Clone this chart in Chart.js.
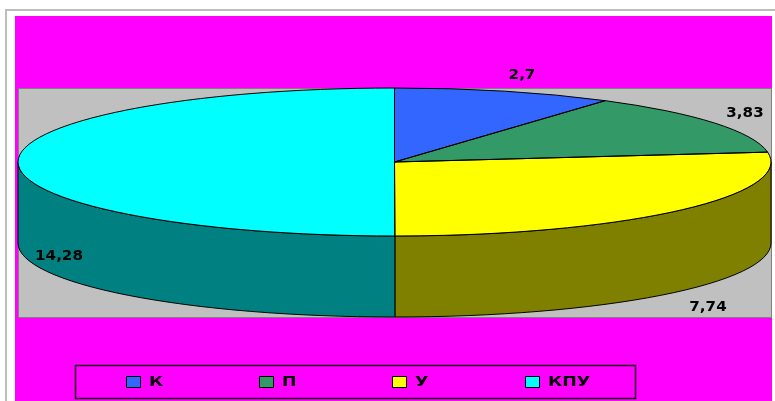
<!DOCTYPE html>
<html>
<head>
<meta charset="utf-8">
<style>
  html, body { margin: 0; background: #fff; }
  canvas { display: block; }
</style>
<script src="https://cdn.jsdelivr.net/npm/chart.js@4"></script>
</head>
<body>
<canvas id="pie" width="775" height="401"></canvas>
<script>
const categories = ["К", "П", "У", "КПУ"];
const seriesValues = [2.7, 3.83, 7.74, 14.28];
const topColors = ["#3366ff", "#339966", "#ffff00", "#00ffff"];
const wallColors = ["#193380", "#1a4d33", "#808000", "#008080"];

// label centres, same order as the categories
const labelSpots = [[522, 75], [745, 113], [708, 307], [59, 256]];
const depth = 81;

function stretchedText(ctx, text, x, y, size, stretch) {
  ctx.save();
  ctx.translate(x, y);
  ctx.scale(stretch, 1);
  ctx.filter = "blur(0.35px)";
  ctx.font = "bold " + size + "px 'DejaVu Sans'";
  ctx.fillStyle = "#000";
  ctx.textBaseline = "middle";
  ctx.fillText(text, 0, 0);
  ctx.restore();
}

// flattens the pie into a disc and adds the wall, frame, labels and legend
const disc3d = {
  id: "disc3d",
  beforeDraw(chart) {
    const ctx = chart.ctx;
    const a = chart.chartArea;
    ctx.save();
    ctx.fillStyle = "#fff";
    ctx.fillRect(0, 0, chart.width, chart.height);
    ctx.strokeStyle = "#bdbdbd";
    ctx.lineWidth = 2;
    ctx.beginPath();
    ctx.moveTo(6, chart.height);
    ctx.lineTo(6, 10);
    ctx.lineTo(chart.width, 10);
    ctx.stroke();
    ctx.fillStyle = "#ff00ff";
    ctx.fillRect(15, 16, 757, chart.height - 16);
    ctx.fillStyle = "#c0c0c0";
    ctx.fillRect(a.left, a.top, a.right - a.left, a.bottom - a.top + depth);
    ctx.strokeStyle = "#808080";
    ctx.lineWidth = 1;
    ctx.strokeRect(a.left + 0.5, a.top + 0.5, a.right - a.left, a.bottom - a.top + depth);
    ctx.restore();
  },
  beforeDatasetsDraw(chart) {
    const ctx = chart.ctx;
    const a = chart.chartArea;
    const arcs = chart.getDatasetMeta(0).data;
    const rx = (a.right - a.left) / 2;
    const ry = (a.bottom - a.top) / 2;
    ctx.save();
    arcs.forEach((arc, i) => {
      const from = Math.max(arc.startAngle, 0);
      const to = Math.min(arc.endAngle, Math.PI);
      if (from >= to) return;
      ctx.beginPath();
      ctx.ellipse(arc.x, arc.y, rx, ry, 0, from, to);
      ctx.ellipse(arc.x, arc.y + depth, rx, ry, 0, to, from, true);
      ctx.closePath();
      ctx.fillStyle = wallColors[i];
      ctx.fill();
      ctx.strokeStyle = "#000";
      ctx.lineWidth = 1;
      ctx.stroke();
    });
    ctx.restore();
    ctx.save();
    ctx.translate(arcs[0].x, arcs[0].y);
    ctx.scale(rx / ry, 1);
    ctx.translate(-arcs[0].x, -arcs[0].y);
  },
  afterDatasetsDraw(chart) {
    const ctx = chart.ctx;
    const a = chart.chartArea;
    const arcs = chart.getDatasetMeta(0).data;
    ctx.restore();
    ctx.save();
    const rx = (a.right - a.left) / 2;
    const ry = (a.bottom - a.top) / 2;
    ctx.strokeStyle = "#000";
    ctx.lineWidth = 1;
    arcs.forEach((arc) => {
      ctx.beginPath();
      ctx.moveTo(arc.x, arc.y);
      ctx.ellipse(arc.x, arc.y, rx, ry, 0, arc.startAngle, arc.endAngle);
      ctx.closePath();
      ctx.stroke();
    });
    ctx.restore();

    seriesValues.forEach((v, i) => {
      const text = String(v).replace(".", ",");
      ctx.save();
      ctx.font = "bold 13.5px 'DejaVu Sans'";
      const w = ctx.measureText(text).width * 1.12;
      ctx.restore();
      stretchedText(ctx, text, labelSpots[i][0] - w / 2, labelSpots[i][1], 13.5, 1.12);
    });

    // legend row
    ctx.save();
    ctx.strokeStyle = "#1a001a";
    ctx.lineWidth = 1.5;
    ctx.strokeRect(75.5, 365.5, 560, 33);
    categories.forEach((name, i) => {
      const x = 126 + i * 133;
      ctx.fillStyle = topColors[i];
      ctx.fillRect(x, 376, 15, 11);
      ctx.strokeStyle = "#000";
      ctx.lineWidth = 1;
      ctx.strokeRect(x + 0.5, 376.5, 14, 11);
      stretchedText(ctx, name, x + 23, 382, 14.5, 1.2);
    });
    ctx.restore();
  }
};

new Chart(document.getElementById("pie"), {
  type: "pie",
  data: {
    labels: categories,
    datasets: [{
      data: seriesValues,
      backgroundColor: topColors,
      borderWidth: 0
    }]
  },
  options: {
    responsive: false,
    animation: false,
    layout: { padding: { left: 18, right: 4, top: 88, bottom: 165 } },
    plugins: {
      legend: { display: false },
      tooltip: { enabled: false }
    }
  },
  plugins: [disc3d]
});
</script>
</body>
</html>
